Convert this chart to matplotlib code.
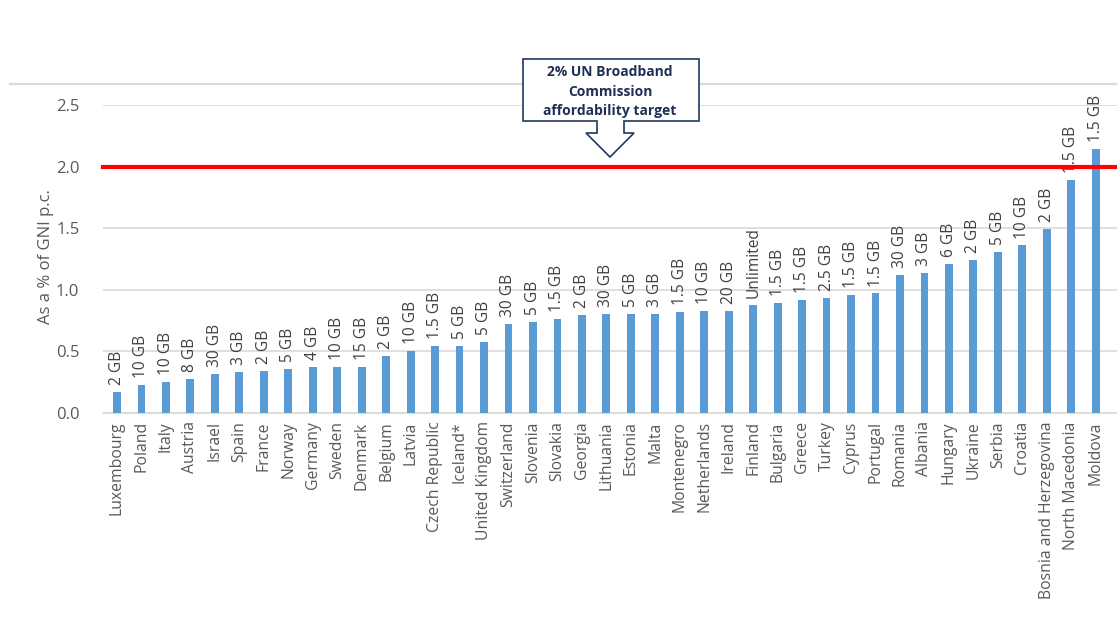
import matplotlib.pyplot as plt
from matplotlib.patches import Polygon
from matplotlib.lines import Line2D

countries = ['Luxembourg', 'Poland', 'Italy', 'Austria', 'Israel', 'Spain', 'France',
             'Norway', 'Germany', 'Sweden', 'Denmark', 'Belgium', 'Latvia', 'Czech Republic',
             'Iceland*', 'United Kingdom', 'Switzerland', 'Slovenia', 'Slovakia', 'Georgia',
             'Lithuania', 'Estonia', 'Malta', 'Montenegro', 'Netherlands', 'Ireland', 'Finland',
             'Bulgaria', 'Greece', 'Turkey', 'Cyprus', 'Portugal', 'Romania', 'Albania',
             'Hungary', 'Ukraine', 'Serbia', 'Croatia', 'Bosnia and Herzegovina',
             'North Macedonia', 'Moldova']
values = [0.17, 0.23, 0.25, 0.28, 0.32, 0.33, 0.34, 0.36, 0.37, 0.37, 0.37, 0.46, 0.50,
          0.545, 0.545, 0.58, 0.72, 0.74, 0.76, 0.795, 0.80, 0.80, 0.80, 0.82, 0.825, 0.83,
          0.875, 0.89, 0.92, 0.93, 0.96, 0.97, 1.12, 1.14, 1.21, 1.24, 1.31, 1.36, 1.49,
          1.89, 2.14]
data_caps = ['2 GB', '10 GB', '10 GB', '8 GB', '30 GB', '3 GB', '2 GB', '5 GB', '4 GB',
             '10 GB', '15 GB', '2 GB', '10 GB', '1.5 GB', '5 GB', '5 GB', '30 GB', '5 GB',
             '1.5 GB', '2 GB', '30 GB', '5 GB', '3 GB', '1.5 GB', '10 GB', '20 GB',
             'Unlimited', '1.5 GB', '1.5 GB', '2.5 GB', '1.5 GB', '1.5 GB', '30 GB', '3 GB',
             '6 GB', '2 GB', '5 GB', '10 GB', '2 GB', '1.5 GB', '1.5 GB']
target = 2.0
yticks = [0.0, 0.5, 1.0, 1.5, 2.0, 2.5]

plt.rcParams['font.family'] = ['Open Sans', 'DejaVu Sans']

W, H = 1117, 628
fig = plt.figure(figsize=(W / 100, H / 100), dpi=100)

def fx(x):
	return x / W

def fy(y):
	return 1 - y / H

ax = fig.add_axes([fx(103), fy(413), fx(1117) - fx(103), fy(105) - fy(413)])

x = list(range(len(countries)))
ax.bar(x, values, width=0.32, color='#5B9BD5', zorder=3)

for i, v in enumerate(values):
	ax.annotate(data_caps[i], (i, v), xytext=(0, 5), textcoords='offset points',
	            rotation=90, ha='center', va='bottom', fontsize=11.2, color='#404040',
	            annotation_clip=False, zorder=4)

ax.set_xlim(-0.572, 40.87)
ax.set_ylim(0, 2.5)
ax.set_yticks(yticks)
ax.set_yticklabels(['%.1f' % t for t in yticks])
ax.set_xticks(x)
ax.set_xticklabels(countries, rotation=90)
ax.tick_params(axis='x', length=0, pad=6, labelsize=11.3, labelcolor='#595959')
ax.tick_params(axis='y', length=0, pad=17, labelsize=12, labelcolor='#595959')
ax.grid(axis='y', color='#D9D9D9', linewidth=1.2, zorder=0)
for s in ['top', 'right', 'left']:
	ax.spines[s].set_visible(False)
ax.spines['bottom'].set_color('#D9D9D9')
ax.spines['bottom'].set_linewidth(1.2)

fig.text(fx(46), fy(257), 'As a % of GNI p.c.', rotation=90, ha='center', va='center',
         fontsize=12, color='#595959')

# 2% target line
ax.axhline(target, color='#FF0000', linewidth=3, zorder=5, clip_on=False)

# frame line at the top
fig.add_artist(Line2D([fx(10), fx(1117)], [fy(83.5), fy(83.5)], color='#D9D9D9', linewidth=1.6))

# callout box with arrow
pts = [(523, 59), (699, 59), (699, 121), (624, 121), (624, 133), (634, 133), (610, 157),
       (586, 133), (597, 133), (597, 121), (523, 121)]
fig.add_artist(Polygon([(fx(a), fy(b)) for a, b in pts], closed=True, facecolor='white',
                       edgecolor='#203864', linewidth=1.2, zorder=10))
for txt, yy in [('2% UN Broadband', 72), ('Commission', 92), ('affordability target', 111)]:
	fig.text(fx(610), fy(yy), txt, ha='center', va='center', fontsize=10,
	         fontweight='bold', color='#1F2F55', zorder=11)

fig.savefig('out.png', dpi=100)
